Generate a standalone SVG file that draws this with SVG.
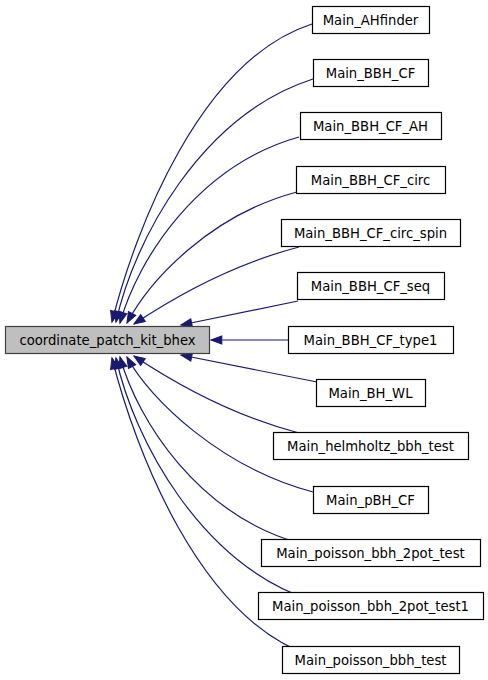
<svg xmlns="http://www.w3.org/2000/svg" width="488" height="680" viewBox="0 0 488 680">
<defs>
<style>
.node rect{fill:#ffffff;stroke:#000000;stroke-width:1.2}
.node.main rect{fill:#bfbfbf;stroke:#404040}
.node text{font-family:"DejaVu Sans","Liberation Sans",sans-serif;font-size:13.2px;fill:#000000;text-anchor:middle}
.edges path{fill:none;stroke:#191970;stroke-width:1.2;marker-end:url(#arr)}
</style>
<marker id="arr" markerUnits="userSpaceOnUse" markerWidth="14" markerHeight="12" viewBox="-1 -5 13 10" refX="10" refY="0" orient="auto" overflow="visible">
<path d="M0,-3.8 L10,0 L0,3.8 Z" fill="#191970" stroke="#191970" stroke-width="1"/>
</marker>
</defs>
<rect width="488" height="680" fill="#ffffff"/>
<g id="edges" class="edges">
<path d="M312,24 C200,60 135,230 112,322"/>
<path d="M313,79 C201,115 134,240 116,322"/>
<path d="M299,137 C199,165 138,258 120,323"/>
<path d="M297,192 C210,215 150,280 127,323"/>
<path d="M299,247 C230,265 170,300 134,324"/>
<path d="M298,301 L181,325"/>
<path d="M288,340 L211,340"/>
<path d="M317,382 L181,355"/>
<path d="M299,433 C230,415 170,380 134,356"/>
<path d="M313,492 C222,468 150,400 127,357"/>
<path d="M299,543 C199,515 138,422 120,357"/>
<path d="M313,601 C201,565 134,440 116,358"/>
<path d="M312,656 C200,620 135,450 112,358"/>
</g>
<g id="node-main" class="node main"><rect x="5.5" y="326.5" width="204" height="27"/><text x="107.5" y="344.5">coordinate_patch_kit_bhex</text></g>
<g id="node-1" class="node"><rect x="312.5" y="6.5" width="117" height="27"/><text x="370.5" y="24.5">Main_AHfinder</text></g>
<g id="node-2" class="node"><rect x="313.5" y="59.5" width="115" height="27"/><text x="370.5" y="77.5">Main_BBH_CF</text></g>
<g id="node-3" class="node"><rect x="300.5" y="112.5" width="141" height="27"/><text x="370.5" y="130.5">Main_BBH_CF_AH</text></g>
<g id="node-4" class="node"><rect x="296.5" y="166.5" width="149" height="27"/><text x="370.5" y="184.5">Main_BBH_CF_circ</text></g>
<g id="node-5" class="node"><rect x="281.5" y="219.5" width="179" height="27"/><text x="370.5" y="237.5">Main_BBH_CF_circ_spin</text></g>
<g id="node-6" class="node"><rect x="297.5" y="272.5" width="147" height="27"/><text x="370.5" y="290.5">Main_BBH_CF_seq</text></g>
<g id="node-7" class="node"><rect x="288.5" y="326.5" width="165" height="27"/><text x="370.5" y="344.5">Main_BBH_CF_type1</text></g>
<g id="node-8" class="node"><rect x="316.5" y="379.5" width="109" height="27"/><text x="370.5" y="397.5">Main_BH_WL</text></g>
<g id="node-9" class="node"><rect x="273.5" y="432.5" width="195" height="27"/><text x="370.5" y="450.5">Main_helmholtz_bbh_test</text></g>
<g id="node-10" class="node"><rect x="313.5" y="486.5" width="115" height="27"/><text x="370.5" y="504.5">Main_pBH_CF</text></g>
<g id="node-11" class="node"><rect x="261.5" y="539.5" width="219" height="27"/><text x="370.5" y="557.5">Main_poisson_bbh_2pot_test</text></g>
<g id="node-12" class="node"><rect x="258.5" y="592.5" width="225" height="27"/><text x="370.5" y="610.5">Main_poisson_bbh_2pot_test1</text></g>
<g id="node-13" class="node"><rect x="282.5" y="646.5" width="177" height="27"/><text x="370.5" y="664.5">Main_poisson_bbh_test</text></g>
</svg>
